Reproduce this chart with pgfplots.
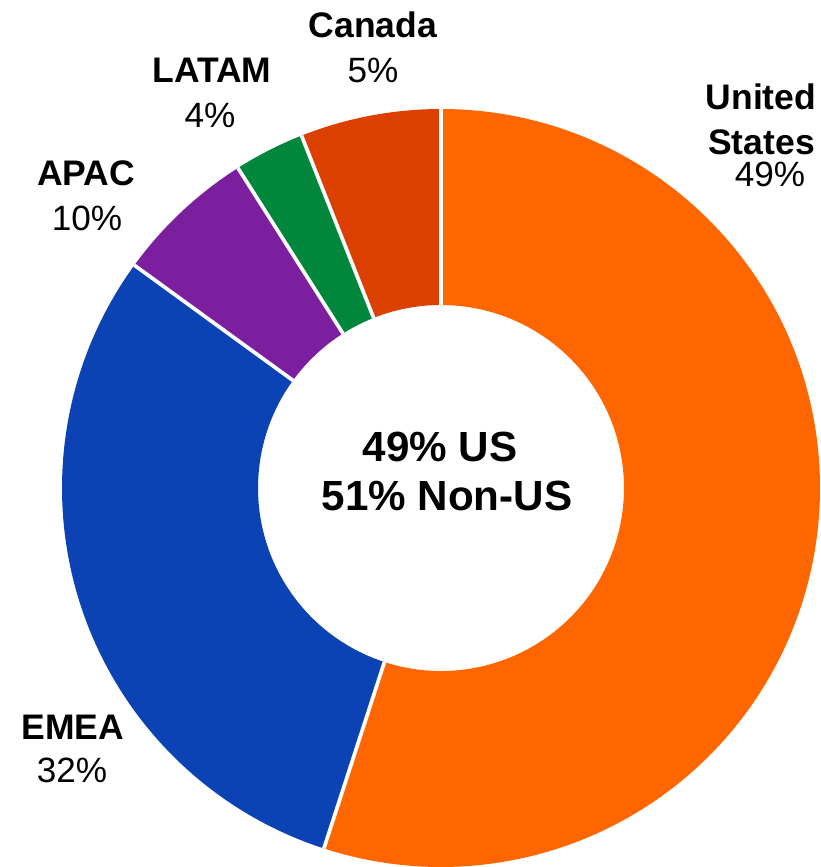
\documentclass[border=0pt]{standalone}
\usepackage{pgfplots}
\pgfplotsset{compat=1.18}
\usepackage{fontspec}
\setmainfont{Liberation Sans}
\definecolor{cUS}{RGB}{255,102,0}
\definecolor{cEMEA}{RGB}{11,67,180}
\definecolor{cAPAC}{RGB}{123,31,159}
\definecolor{cLATAM}{RGB}{0,135,60}
\definecolor{cCAN}{RGB}{219,64,0}
% data (share of the ring, percent, as drawn)
\def\vUS{55}\def\vEMEA{30}\def\vAPAC{6}\def\vLATAM{3}\def\vCAN{6}
% geometry (axis units = cm)
\def\cx{4.41}\def\cy{3.79}\def\Ro{3.79}\def\Ri{1.83}
\pgfmathsetmacro\aO{90}
\pgfmathsetmacro\aA{\aO-3.6*\vUS}
\pgfmathsetmacro\aB{\aA-3.6*\vEMEA}
\pgfmathsetmacro\aC{\aB-3.6*\vAPAC}
\pgfmathsetmacro\aD{\aC-3.6*\vLATAM}
\pgfmathsetmacro\aE{\aD-3.6*\vCAN}
\pgfmathsetmacro\oxO{\cx+\Ro*cos(\aO)}\pgfmathsetmacro\oyO{\cy+\Ro*sin(\aO)}
\pgfmathsetmacro\oxA{\cx+\Ro*cos(\aA)}\pgfmathsetmacro\oyA{\cy+\Ro*sin(\aA)}
\pgfmathsetmacro\oxB{\cx+\Ro*cos(\aB)}\pgfmathsetmacro\oyB{\cy+\Ro*sin(\aB)}
\pgfmathsetmacro\oxC{\cx+\Ro*cos(\aC)}\pgfmathsetmacro\oyC{\cy+\Ro*sin(\aC)}
\pgfmathsetmacro\oxD{\cx+\Ro*cos(\aD)}\pgfmathsetmacro\oyD{\cy+\Ro*sin(\aD)}
\pgfmathsetmacro\ixA{\cx+\Ri*cos(\aA)}\pgfmathsetmacro\iyA{\cy+\Ri*sin(\aA)}
\pgfmathsetmacro\ixB{\cx+\Ri*cos(\aB)}\pgfmathsetmacro\iyB{\cy+\Ri*sin(\aB)}
\pgfmathsetmacro\ixC{\cx+\Ri*cos(\aC)}\pgfmathsetmacro\iyC{\cy+\Ri*sin(\aC)}
\pgfmathsetmacro\ixD{\cx+\Ri*cos(\aD)}\pgfmathsetmacro\iyD{\cy+\Ri*sin(\aD)}
\pgfmathsetmacro\ixE{\cx+\Ri*cos(\aE)}\pgfmathsetmacro\iyE{\cy+\Ri*sin(\aE)}
\begin{document}
\begin{tikzpicture}
\begin{axis}[x=1cm,y=1cm,xmin=0,xmax=8.21,ymin=0,ymax=8.67,
  hide axis,scale only axis,clip=false]
\path (axis cs:0,0) rectangle (axis cs:8.21,8.67);
\tikzset{sl/.style={overlay},sep/.style={draw=white,line width=1.05pt,overlay}}
\fill[cUS,sl] (axis cs:\oxO,\oyO) arc[start angle=\aO,end angle=\aA,radius=\Ro cm]
  -- (axis cs:\ixA,\iyA) arc[start angle=\aA,end angle=\aO,radius=\Ri cm] -- cycle;
\fill[cEMEA,sl] (axis cs:\oxA,\oyA) arc[start angle=\aA,end angle=\aB,radius=\Ro cm]
  -- (axis cs:\ixB,\iyB) arc[start angle=\aB,end angle=\aA,radius=\Ri cm] -- cycle;
\fill[cAPAC,sl] (axis cs:\oxB,\oyB) arc[start angle=\aB,end angle=\aC,radius=\Ro cm]
  -- (axis cs:\ixC,\iyC) arc[start angle=\aC,end angle=\aB,radius=\Ri cm] -- cycle;
\fill[cLATAM,sl] (axis cs:\oxC,\oyC) arc[start angle=\aC,end angle=\aD,radius=\Ro cm]
  -- (axis cs:\ixD,\iyD) arc[start angle=\aD,end angle=\aC,radius=\Ri cm] -- cycle;
\fill[cCAN,sl] (axis cs:\oxD,\oyD) arc[start angle=\aD,end angle=\aE,radius=\Ro cm]
  -- (axis cs:\ixE,\iyE) arc[start angle=\aE,end angle=\aD,radius=\Ri cm] -- cycle;
\draw[sep] (axis cs:\ixE,\iyE) -- (axis cs:\oxO,\oyO);
\draw[sep] (axis cs:\ixA,\iyA) -- (axis cs:\oxA,\oyA);
\draw[sep] (axis cs:\ixB,\iyB) -- (axis cs:\oxB,\oyB);
\draw[sep] (axis cs:\ixC,\iyC) -- (axis cs:\oxC,\oyC);
\draw[sep] (axis cs:\ixD,\iyD) -- (axis cs:\oxD,\oyD);
\tikzset{nb/.style={anchor=base,inner sep=0pt,font=\fontsize{10.1}{12}\selectfont\bfseries},
         nr/.style={anchor=base,inner sep=0pt,font=\fontsize{10}{12}\selectfont},
         nc/.style={anchor=base,inner sep=0pt,font=\fontsize{12}{14}\selectfont\bfseries}}
\node[nb] at (axis cs:3.73,8.30) {Canada};
\node[nr] at (axis cs:3.73,7.85) {5\%};
\node[nb] at (axis cs:2.12,7.85) {LATAM};
\node[nr] at (axis cs:2.10,7.40) {4\%};
\node[nb] at (axis cs:0.86,6.82) {APAC};
\node[nr] at (axis cs:0.87,6.37) {10\%};
\node[nb] at (axis cs:7.61,7.58) {United};
\node[nb] at (axis cs:7.615,7.12) {States};
\node[nr] at (axis cs:7.70,6.81) {49\%};
\node[nb] at (axis cs:0.73,1.27) {EMEA};
\node[nr] at (axis cs:0.72,0.84) {32\%};
\node[nc] at (axis cs:4.40,4.06) {49\% US};
\node[nc] at (axis cs:4.47,3.57) {51\% Non-US};
\end{axis}
\end{tikzpicture}
\end{document}
